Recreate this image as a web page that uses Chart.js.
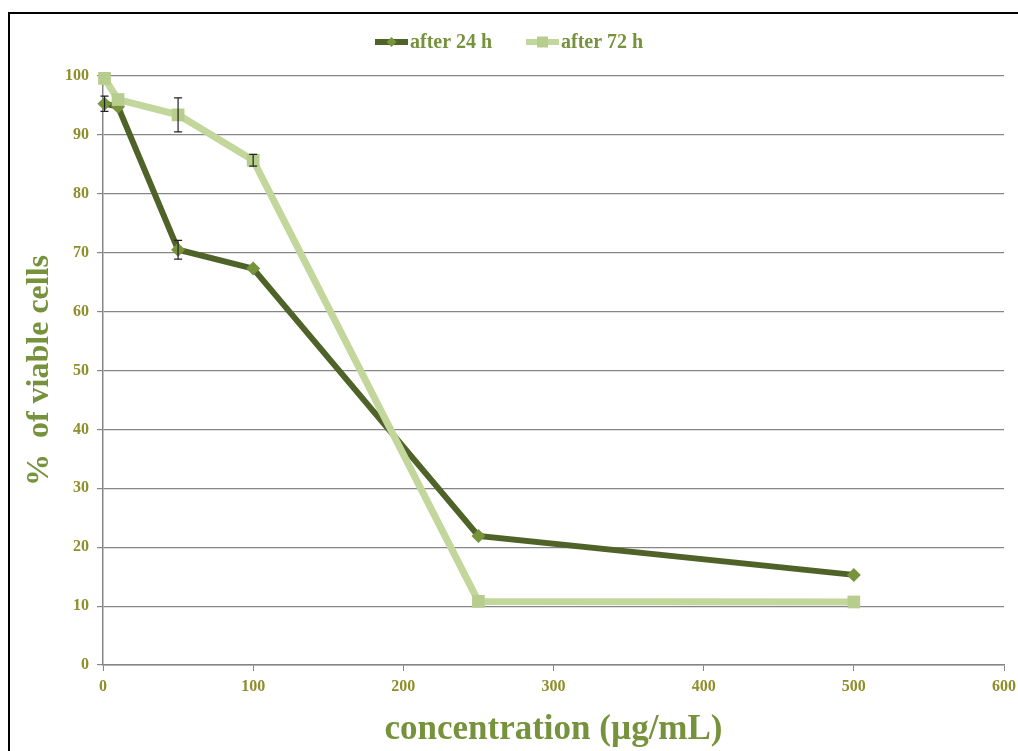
<!DOCTYPE html>
<html><head><meta charset="utf-8">
<script src="https://cdn.jsdelivr.net/npm/chart.js@4.4.1/dist/chart.umd.min.js"></script>
<style>
html,body{margin:0;padding:0;background:#fff;overflow:hidden}
#frame{position:absolute;left:8px;top:12px;width:1100px;height:800px;border:2px solid #000;box-sizing:border-box}
#wrap{position:absolute;left:0;top:0;width:1018px;height:751px}
</style></head><body>
<div id="frame"></div>
<div id="wrap"><canvas id="c" width="1018" height="751"></canvas></div>
<script>
const concentrations = [1, 10, 50, 100, 250, 500];
const viable24 = [95.3, 94.8, 70.5, 67.3, 21.9, 15.3];
const viable72 = [99.6, 96.0, 93.4, 85.7, 10.8, 10.7];
const err24 = [1.3, 0, 1.6, 0, 0, 0];
const err72 = [0, 0, 2.9, 1.0, 0, 0];
const seriesNames = ['after 24 h', 'after 72 h'];
const xTicks = [0, 100, 200, 300, 400, 500, 600];
const yTicks = [0, 10, 20, 30, 40, 50, 60, 70, 80, 90, 100];

const dark = '#4F6228', darkMarker = '#77933C';
const light = '#C3D69B', lightMarker = '#B6CD8E';
const tickColor = '#8E8E2B', titleColor = '#76923C';
const serif = '"Liberation Serif", "Times New Roman", serif';

const errorBars = {
  id: 'errorBars',
  afterDatasetsDraw(chart) {
    const ctx = chart.ctx, xs = chart.scales.x, ys = chart.scales.y;
    const sets = [[viable24, err24], [viable72, err72]];
    ctx.save();
    ctx.strokeStyle = '#222';
    ctx.lineWidth = 1.2;
    sets.forEach(([vals, errs]) => {
      vals.forEach((v, i) => {
        const e = errs[i];
        if (!e) return;
        const px = xs.getPixelForValue(concentrations[i]);
        const y1 = ys.getPixelForValue(v + e), y2 = ys.getPixelForValue(v - e);
        ctx.beginPath();
        ctx.moveTo(px, y1); ctx.lineTo(px, y2);
        ctx.moveTo(px - 4, y1); ctx.lineTo(px + 4, y1);
        ctx.moveTo(px - 4, y2); ctx.lineTo(px + 4, y2);
        ctx.stroke();
      });
    });
    ctx.restore();
  }
};

const legendPlugin = {
  id: 'customLegend',
  afterDraw(chart) {
    const ctx = chart.ctx;
    const items = [
      {name: seriesNames[0], line: dark, marker: darkMarker, style: 'diamond', x: 375},
      {name: seriesNames[1], line: light, marker: lightMarker, style: 'square', x: 526}
    ];
    const y = 42;
    ctx.save();
    items.forEach(it => {
      ctx.strokeStyle = it.line; ctx.lineWidth = 6;
      ctx.beginPath(); ctx.moveTo(it.x, y); ctx.lineTo(it.x + 33, y); ctx.stroke();
      ctx.fillStyle = it.marker;
      const cx = it.x + 16.5;
      if (it.style === 'diamond') {
        ctx.beginPath(); ctx.moveTo(cx, y - 5); ctx.lineTo(cx + 5, y); ctx.lineTo(cx, y + 5); ctx.lineTo(cx - 5, y); ctx.closePath(); ctx.fill();
      } else {
        ctx.fillRect(cx - 5.5, y - 5.5, 11, 11);
      }
      ctx.fillStyle = titleColor;
      ctx.font = 'bold 20px ' + serif;
      ctx.textBaseline = 'middle';
      ctx.fillText(it.name, it.x + 35, y + 1);
    });
    ctx.restore();
  }
};

new Chart(document.getElementById('c'), {
  type: 'line',
  data: {
    datasets: [
      {
        label: seriesNames[0],
        data: concentrations.map((c, i) => ({x: c, y: viable24[i]})),
        borderColor: dark, borderWidth: 6,
        pointStyle: 'rectRot', pointRadius: 7, pointBackgroundColor: darkMarker, pointBorderColor: darkMarker, pointBorderWidth: 0,
        tension: 0, order: 1, clip: false
      },
      {
        label: seriesNames[1],
        data: concentrations.map((c, i) => ({x: c, y: viable72[i]})),
        borderColor: light, borderWidth: 7,
        pointStyle: 'rect', pointRadius: 9, pointBackgroundColor: lightMarker, pointBorderColor: lightMarker, pointBorderWidth: 0,
        tension: 0, order: 0, clip: false
      }
    ]
  },
  options: {
    responsive: false, animation: false, devicePixelRatio: 1,
    layout: {padding: {top: 76, right: 0, left: 12, bottom: 0}},
    plugins: {legend: {display: false}, tooltip: {enabled: false}},
    scales: {
      x: {
        type: 'linear', min: 0, max: 600,
        afterBuildTicks: s => { s.ticks = xTicks.map(v => ({value: v})); },
        grid: {display: true, drawOnChartArea: false, drawTicks: true, tickLength: 6, color: '#868686'},
        border: {color: '#868686', width: 1.5},
        ticks: {color: tickColor, font: {family: serif, size: 16, weight: 'bold'}, padding: 6, maxRotation: 0},
        title: {display: true, text: 'concentration (µg/mL)', color: titleColor, font: {family: serif, size: 35, weight: 'bold'}, padding: {top: 12, bottom: 0}},
        afterFit: s => { s.height = 86; s.paddingRight = 14; }
      },
      y: {
        min: 0, max: 100,
        afterBuildTicks: s => { s.ticks = yTicks.map(v => ({value: v})); },
        grid: {color: '#868686', lineWidth: 1.2, tickLength: 6},
        border: {color: '#868686', width: 1.5},
        ticks: {color: tickColor, font: {family: serif, size: 16, weight: 'bold'}, padding: 8},
        title: {display: true, text: '%  of viable cells', color: titleColor, font: {family: serif, size: 32, weight: 'bold'}, padding: {top: 9, bottom: 0}},
        afterFit: s => { s.width = 91; }
      }
    }
  },
  plugins: [errorBars, legendPlugin]
});
</script>
</body></html>
